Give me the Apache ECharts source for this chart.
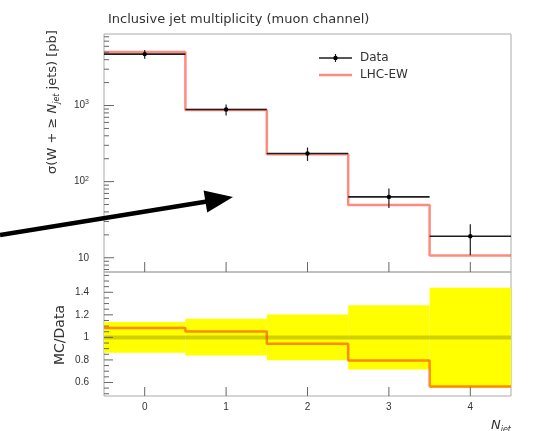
<!DOCTYPE html>
<html>
<head>
<meta charset="utf-8">
<script src="https://cdn.jsdelivr.net/npm/echarts@6/dist/echarts.min.js"></script>
<style>
  html, body { margin: 0; padding: 0; background: #fff; }
  #chart { width: 548px; height: 431px; }
</style>
</head>
<body>
<div id="chart"></div>
<script>
// Inclusive jet multiplicity, muon channel: cross sections and MC/Data ratio
const binLabels = ['0', '1', '2', '3', '4'];
const binCenters = [0, 1, 2, 3, 4];
const binEdges = [-0.5, 0.5, 1.5, 2.5, 3.5, 4.5];

const dataXsec = [4740, 887, 234, 63, 19.2];   // pb
const dataErr = [640, 145, 47, 18, 8.4];       // pb
const mcXsec = [5040, 875, 229, 49.3, 10.7];   // pb

const ratioMC = [1.083, 1.053, 0.944, 0.796, 0.564];
const bandUp = [1.136, 1.166, 1.203, 1.285, 1.44];
const bandLow = [0.864, 0.84, 0.797, 0.715, 0.55];

const mainMajorTicks = [10, 100, 1000];
const mainMinorTicks = [7, 8, 9, 20, 30, 40, 50, 60, 70, 80, 90,
  200, 300, 400, 500, 600, 700, 800, 900, 2000, 3000, 4000, 5000, 6000, 7000, 8000];
const ratioMajorTicks = [0.6, 0.8, 1, 1.2, 1.4];
const ratioMinorTicks = [0.5, 0.55, 0.65, 0.7, 0.75, 0.85, 0.9, 0.95, 1.05, 1.1, 1.15,
  1.25, 1.3, 1.35, 1.45, 1.5, 1.55];

const X_MIN = -0.5, X_MAX = 4.5;
const MAIN_MIN = 6.5, MAIN_MAX = 8700;
const RATIO_MIN = 0.48, RATIO_MAX = 1.58;

const FONT = 'DejaVu Sans';
const NUM_FONT = 'Liberation Sans';
const TXT = '#333';
const TICK = '#666';

const chart = echarts.init(document.getElementById('chart'), null, { renderer: 'canvas' });

// step polyline points from bin edges
function stepPoints(vals) {
  const pts = vals.map((v, i) => [binEdges[i], v]);
  pts.push([binEdges[binEdges.length - 1], vals[vals.length - 1]]);
  return pts;
}

// tick marks drawn inside the frame via the axis scales
function tickSeries(gridIdx, dir, values, len, yBase) {
  return {
    type: 'custom', xAxisIndex: gridIdx, yAxisIndex: gridIdx, z: 6, silent: true,
    data: values.map(v => [v]),
    renderItem: (params, api) => {
      const v = api.value(0);
      if (dir === 'y') {
        const p = api.coord([X_MIN, v]);
        return { type: 'line', shape: { x1: p[0], y1: p[1], x2: p[0] + len, y2: p[1] },
          style: { stroke: TICK, lineWidth: 1 } };
      }
      const p = api.coord([v, yBase]);
      return { type: 'line', shape: { x1: p[0], y1: p[1], x2: p[0], y2: p[1] - len },
        style: { stroke: TICK, lineWidth: 1 } };
    }
  };
}

function isIn(list, v) {
  return list.find(t => Math.abs(t - v) <= 1e-6 * Math.max(1, Math.abs(t)));
}

const subRich = {
  i: { fontFamily: FONT, fontSize: 13, fontStyle: 'italic', fill: TXT },
  sub: { fontFamily: FONT, fontSize: 8, fontStyle: 'italic', fill: TXT, verticalAlign: 'bottom', padding: [7, 0, 0, 0] }
};

const option = {
  backgroundColor: '#fff',
  animation: false,
  title: {
    text: 'Inclusive jet multiplicity (muon channel)',
    left: 103, top: 8,
    textStyle: { fontFamily: FONT, fontSize: 13, fontWeight: 'normal', color: TXT }
  },
  grid: [
    { left: 104, right: 37, top: 34, height: 238, show: true, borderColor: '#aaa', borderWidth: 1, backgroundColor: 'transparent' },
    { left: 104, right: 37, top: 272, height: 124, show: true, borderColor: '#aaa', borderWidth: 1, backgroundColor: 'transparent' }
  ],
  xAxis: [
    { type: 'value', gridIndex: 0, min: X_MIN, max: X_MAX,
      axisLine: { show: false }, axisTick: { show: false }, splitLine: { show: false },
      axisLabel: { show: false } },
    { type: 'value', gridIndex: 1, min: X_MIN, max: X_MAX,
      axisLine: { show: false }, axisTick: { show: false }, splitLine: { show: false },
      axisLabel: {
        margin: 6, fontFamily: NUM_FONT, fontSize: 10, color: TXT, showMinLabel: false, showMaxLabel: false,
        formatter: v => { const i = binCenters.indexOf(v); return i >= 0 ? binLabels[i] : ''; }
      } }
  ],
  yAxis: [
    { type: 'log', logBase: 10, gridIndex: 0, min: MAIN_MIN, max: MAIN_MAX,
      axisLine: { show: false }, axisTick: { show: false }, splitLine: { show: false },
      axisLabel: {
        margin: 15, fontFamily: NUM_FONT, fontSize: 10, color: TXT,
        formatter: v => {
          const t = isIn(mainMajorTicks, v);
          if (!t) return '';
          const e = Math.round(Math.log10(t));
          return e === 1 ? '{b|10}' : '{b|10}{s|' + e + '}';
        },
        rich: {
          b: { fontFamily: NUM_FONT, fontSize: 10, color: TXT },
          s: { fontFamily: NUM_FONT, fontSize: 7, color: TXT, verticalAlign: 'top', padding: [0, 0, 6, 0] }
        }
      } },
    { type: 'value', gridIndex: 1, min: RATIO_MIN, max: RATIO_MAX,
      axisLine: { show: false }, axisTick: { show: false }, splitLine: { show: false },
      axisLabel: {
        margin: 15, fontFamily: NUM_FONT, fontSize: 10, color: TXT,
        formatter: v => { const t = isIn(ratioMajorTicks, v); return t !== undefined ? String(t) : ''; }
      } }
  ],
  graphic: [
    // y-axis title, main panel
    { type: 'text', x: 53, y: 102, rotation: Math.PI / 2,
      style: { text: 'σ(W + ≥ {i|N}{sub|jet} jets) [pb]', align: 'center', verticalAlign: 'middle',
        fontFamily: FONT, fontSize: 13, fill: TXT, rich: subRich } },
    // y-axis title, ratio panel
    { type: 'text', x: 60, y: 335, rotation: Math.PI / 2,
      style: { text: 'MC/Data', align: 'center', verticalAlign: 'middle', fontFamily: FONT, fontSize: 14, fill: TXT } },
    // x-axis title
    { type: 'text', x: 511, y: 426,
      style: { text: '{i|N}{sub|jet}', align: 'right', verticalAlign: 'middle', fontFamily: FONT, fontSize: 13, fill: TXT,
        rich: subRich } },
    // legend
    { type: 'line', shape: { x1: 319, y1: 58, x2: 352, y2: 58 }, style: { stroke: '#1e1e1e', lineWidth: 1.6 } },
    { type: 'line', shape: { x1: 335.5, y1: 54, x2: 335.5, y2: 62 }, style: { stroke: '#1e1e1e', lineWidth: 1.2 } },
    { type: 'circle', shape: { cx: 335.5, cy: 58, r: 2.2 }, style: { fill: '#000' } },
    { type: 'text', x: 360, y: 58, style: { text: 'Data', verticalAlign: 'middle', fontFamily: FONT, fontSize: 12, fill: TXT } },
    { type: 'line', shape: { x1: 319, y1: 75, x2: 352, y2: 75 }, style: { stroke: 'rgba(255,60,40,0.6)', lineWidth: 2.5 } },
    { type: 'text', x: 360, y: 75, style: { text: 'LHC-EW', verticalAlign: 'middle', fontFamily: FONT, fontSize: 12, fill: TXT } },
    // annotation arrow
    { type: 'polyline', z: 100, shape: { points: [[0, 235], [210, 201]] }, style: { stroke: '#000', lineWidth: 4.5, fill: null } },
    { type: 'polygon', z: 100, shape: { points: [[233, 197], [207.2, 212.4], [203.6, 190.6]] }, style: { fill: '#000' } }
  ],
  series: [
    // MC cross section step
    { name: 'LHC-EW', type: 'line', xAxisIndex: 0, yAxisIndex: 0, step: 'end', symbol: 'none', z: 3,
      data: stepPoints(mcXsec), lineStyle: { color: 'rgba(255,60,40,0.6)', width: 2.5 } },
    // Data points with bin widths and errors
    { name: 'Data', type: 'custom', xAxisIndex: 0, yAxisIndex: 0, z: 4,
      data: binCenters.map((c, i) => [c, dataXsec[i], dataErr[i]]),
      renderItem: (params, api) => {
        const i = params.dataIndex;
        const xc = api.value(0), v = api.value(1), e = api.value(2);
        const l = api.coord([binEdges[i], v]), r = api.coord([binEdges[i + 1], v]);
        const t = api.coord([xc, v + e]), b = api.coord([xc, v - e]), c = api.coord([xc, v]);
        return { type: 'group', children: [
          { type: 'line', shape: { x1: l[0], y1: l[1], x2: r[0], y2: r[1] }, style: { stroke: '#1e1e1e', lineWidth: 1.6 } },
          { type: 'line', shape: { x1: t[0], y1: t[1], x2: b[0], y2: b[1] }, style: { stroke: '#1e1e1e', lineWidth: 1.2 } },
          { type: 'circle', shape: { cx: c[0], cy: c[1], r: 2.2 }, style: { fill: '#000' } }
        ] };
      } },
    // Ratio: data uncertainty band
    { name: 'band', type: 'custom', xAxisIndex: 1, yAxisIndex: 1, z: 1,
      data: binCenters.map((c, i) => [c, bandUp[i], bandLow[i]]),
      renderItem: (params, api) => {
        const i = params.dataIndex;
        const p1 = api.coord([binEdges[i], api.value(1)]);
        const p2 = api.coord([binEdges[i + 1], api.value(2)]);
        return { type: 'rect', shape: { x: p1[0], y: p1[1], width: p2[0] - p1[0], height: p2[1] - p1[1] },
          style: { fill: '#ffff00' } };
      } },
    // Ratio: unity line
    { name: 'unity', type: 'line', xAxisIndex: 1, yAxisIndex: 1, symbol: 'none', z: 2,
      data: [[X_MIN, 1], [X_MAX, 1]], lineStyle: { color: 'rgba(120,120,0,0.35)', width: 4 } },
    // Ratio: MC / Data step
    { name: 'ratio', type: 'line', xAxisIndex: 1, yAxisIndex: 1, step: 'end', symbol: 'none', z: 3,
      data: stepPoints(ratioMC), lineStyle: { color: 'rgba(255,60,0,0.6)', width: 2.5 } },
    // tick marks
    tickSeries(0, 'y', mainMajorTicks, 10),
    tickSeries(0, 'y', mainMinorTicks, 5),
    tickSeries(0, 'x', binCenters, 10, MAIN_MIN),
    tickSeries(1, 'y', ratioMajorTicks, 9),
    tickSeries(1, 'y', ratioMinorTicks, 5),
    tickSeries(1, 'x', binCenters, 9, RATIO_MIN)
  ]
};

chart.setOption(option);
</script>
</body>
</html>
